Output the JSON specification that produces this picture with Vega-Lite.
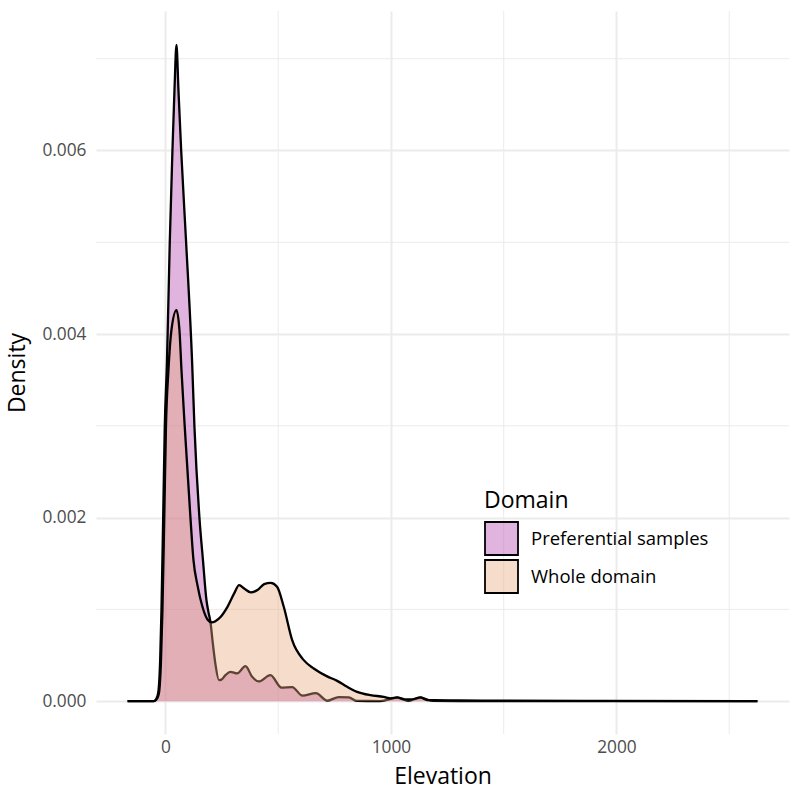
{
  "$schema": "https://vega.github.io/schema/vega-lite/v6.json",
  "width": 693,
  "height": 723,
  "autosize": {"type": "none"},
  "padding": {"left": 96, "top": 11, "right": 11, "bottom": 66},
  "background": "white",
  "datasets": {
    "curves": [
      {"elevation": -168, "density": 0, "domain": "Preferential samples"},
      {"elevation": -100, "density": 0, "domain": "Preferential samples"},
      {"elevation": -52, "density": 0, "domain": "Preferential samples"},
      {"elevation": -42, "density": 0.00002, "domain": "Preferential samples"},
      {"elevation": -32.4, "density": 0.000087, "domain": "Preferential samples"},
      {"elevation": -23.5, "density": 0.000447, "domain": "Preferential samples"},
      {"elevation": -17.7, "density": 0.000992, "domain": "Preferential samples"},
      {"elevation": -10.2, "density": 0.001995, "domain": "Preferential samples"},
      {"elevation": -3.1, "density": 0.002986, "domain": "Preferential samples"},
      {"elevation": 6.7, "density": 0.0037, "domain": "Preferential samples"},
      {"elevation": 19, "density": 0.00499, "domain": "Preferential samples"},
      {"elevation": 31, "density": 0.006005, "domain": "Preferential samples"},
      {"elevation": 40, "density": 0.00666, "domain": "Preferential samples"},
      {"elevation": 48.8, "density": 0.00715, "domain": "Preferential samples"},
      {"elevation": 57.6, "density": 0.00666, "domain": "Preferential samples"},
      {"elevation": 69.6, "density": 0.006005, "domain": "Preferential samples"},
      {"elevation": 91.8, "density": 0.00499, "domain": "Preferential samples"},
      {"elevation": 118.4, "density": 0.00368, "domain": "Preferential samples"},
      {"elevation": 128.6, "density": 0.002986, "domain": "Preferential samples"},
      {"elevation": 150.8, "density": 0.001995, "domain": "Preferential samples"},
      {"elevation": 166.3, "density": 0.001537, "domain": "Preferential samples"},
      {"elevation": 181.8, "density": 0.0011, "domain": "Preferential samples"},
      {"elevation": 190.7, "density": 0.00097, "domain": "Preferential samples"},
      {"elevation": 199.6, "density": 0.000861, "domain": "Preferential samples"},
      {"elevation": 208.4, "density": 0.000665, "domain": "Preferential samples"},
      {"elevation": 221.7, "density": 0.0004, "domain": "Preferential samples"},
      {"elevation": 237.2, "density": 0.000229, "domain": "Preferential samples"},
      {"elevation": 248, "density": 0.000234, "domain": "Preferential samples"},
      {"elevation": 266, "density": 0.000283, "domain": "Preferential samples"},
      {"elevation": 288, "density": 0.000319, "domain": "Preferential samples"},
      {"elevation": 318, "density": 0.000302, "domain": "Preferential samples"},
      {"elevation": 354.8, "density": 0.000381, "domain": "Preferential samples"},
      {"elevation": 384.5, "density": 0.000265, "domain": "Preferential samples"},
      {"elevation": 413.7, "density": 0.000215, "domain": "Preferential samples"},
      {"elevation": 465.6, "density": 0.000283, "domain": "Preferential samples"},
      {"elevation": 514.4, "density": 0.000147, "domain": "Preferential samples"},
      {"elevation": 561.9, "density": 0.000153, "domain": "Preferential samples"},
      {"elevation": 607.5, "density": 0.00006, "domain": "Preferential samples"},
      {"elevation": 667.4, "density": 0.000087, "domain": "Preferential samples"},
      {"elevation": 717, "density": 0.000005, "domain": "Preferential samples"},
      {"elevation": 768.5, "density": 0.000044, "domain": "Preferential samples"},
      {"elevation": 812.9, "density": 0.00004, "domain": "Preferential samples"},
      {"elevation": 850, "density": 0.000002, "domain": "Preferential samples"},
      {"elevation": 953, "density": 0.000001, "domain": "Preferential samples"},
      {"elevation": 1027.5, "density": 0.000038, "domain": "Preferential samples"},
      {"elevation": 1077, "density": 0.000002, "domain": "Preferential samples"},
      {"elevation": 1131, "density": 0.000038, "domain": "Preferential samples"},
      {"elevation": 1184, "density": 0.000002, "domain": "Preferential samples"},
      {"elevation": 1485, "density": 0, "domain": "Preferential samples"},
      {"elevation": 2000, "density": 0, "domain": "Preferential samples"},
      {"elevation": 2625, "density": 0, "domain": "Preferential samples"},
      {"elevation": -168, "density": 0, "domain": "Whole domain"},
      {"elevation": -100, "density": 0, "domain": "Whole domain"},
      {"elevation": -51, "density": 0, "domain": "Whole domain"},
      {"elevation": -41, "density": 0.000015, "domain": "Whole domain"},
      {"elevation": -29.7, "density": 0.000076, "domain": "Whole domain"},
      {"elevation": -20, "density": 0.000425, "domain": "Whole domain"},
      {"elevation": -13.3, "density": 0.000992, "domain": "Whole domain"},
      {"elevation": -5.3, "density": 0.001995, "domain": "Whole domain"},
      {"elevation": 2.2, "density": 0.002986, "domain": "Whole domain"},
      {"elevation": 13.3, "density": 0.003608, "domain": "Whole domain"},
      {"elevation": 26.6, "density": 0.004044, "domain": "Whole domain"},
      {"elevation": 48.8, "density": 0.00426, "domain": "Whole domain"},
      {"elevation": 62, "density": 0.004044, "domain": "Whole domain"},
      {"elevation": 71, "density": 0.003608, "domain": "Whole domain"},
      {"elevation": 85.6, "density": 0.002986, "domain": "Whole domain"},
      {"elevation": 110.9, "density": 0.001995, "domain": "Whole domain"},
      {"elevation": 124.2, "density": 0.001537, "domain": "Whole domain"},
      {"elevation": 141.9, "density": 0.001264, "domain": "Whole domain"},
      {"elevation": 164, "density": 0.001028, "domain": "Whole domain"},
      {"elevation": 186.3, "density": 0.00089, "domain": "Whole domain"},
      {"elevation": 205.3, "density": 0.000858, "domain": "Whole domain"},
      {"elevation": 238, "density": 0.000901, "domain": "Whole domain"},
      {"elevation": 275, "density": 0.001028, "domain": "Whole domain"},
      {"elevation": 304.7, "density": 0.001174, "domain": "Whole domain"},
      {"elevation": 326.8, "density": 0.001264, "domain": "Whole domain"},
      {"elevation": 349, "density": 0.001228, "domain": "Whole domain"},
      {"elevation": 378.3, "density": 0.001185, "domain": "Whole domain"},
      {"elevation": 408, "density": 0.00121, "domain": "Whole domain"},
      {"elevation": 437.7, "density": 0.001275, "domain": "Whole domain"},
      {"elevation": 467, "density": 0.001289, "domain": "Whole domain"},
      {"elevation": 495, "density": 0.001246, "domain": "Whole domain"},
      {"elevation": 524.6, "density": 0.001028, "domain": "Whole domain"},
      {"elevation": 561.9, "density": 0.000665, "domain": "Whole domain"},
      {"elevation": 613.3, "density": 0.000447, "domain": "Whole domain"},
      {"elevation": 657.6, "density": 0.000356, "domain": "Whole domain"},
      {"elevation": 717, "density": 0.00027, "domain": "Whole domain"},
      {"elevation": 761.4, "density": 0.000221, "domain": "Whole domain"},
      {"elevation": 805.8, "density": 0.000156, "domain": "Whole domain"},
      {"elevation": 850, "density": 0.000101, "domain": "Whole domain"},
      {"elevation": 909, "density": 0.000065, "domain": "Whole domain"},
      {"elevation": 968, "density": 0.000047, "domain": "Whole domain"},
      {"elevation": 1000, "density": 0.00003, "domain": "Whole domain"},
      {"elevation": 1027.5, "density": 0.00004, "domain": "Whole domain"},
      {"elevation": 1060, "density": 0.00002, "domain": "Whole domain"},
      {"elevation": 1086.5, "density": 0.000018, "domain": "Whole domain"},
      {"elevation": 1131, "density": 0.00004, "domain": "Whole domain"},
      {"elevation": 1160, "density": 0.000012, "domain": "Whole domain"},
      {"elevation": 1190, "density": 0.000011, "domain": "Whole domain"},
      {"elevation": 1300, "density": 0.000008, "domain": "Whole domain"},
      {"elevation": 1485, "density": 0.000005, "domain": "Whole domain"},
      {"elevation": 1929, "density": 0.000002, "domain": "Whole domain"},
      {"elevation": 2625, "density": 0, "domain": "Whole domain"}
    ],
    "vgrid": [{"elevation": 500}, {"elevation": 1500}, {"elevation": 2500}],
    "hgrid": [{"density": 0.001}, {"density": 0.003}, {"density": 0.005}, {"density": 0.007}]
  },
  "layer": [
    {
      "data": {"name": "vgrid"},
      "mark": {"type": "rule", "color": "#EBEBEB", "strokeWidth": 1},
      "encoding": {
        "x": {"field": "elevation", "type": "quantitative", "title": "Elevation",
          "scale": {"domain": [-308, 2765], "nice": false, "zero": false},
          "axis": {"values": [0, 1000, 2000], "format": "d"}}
      }
    },
    {
      "data": {"name": "hgrid"},
      "mark": {"type": "rule", "color": "#EBEBEB", "strokeWidth": 1},
      "encoding": {
        "y": {"field": "density", "type": "quantitative", "title": "Density",
          "scale": {"domain": [-0.000358, 0.00752], "nice": false, "zero": false},
          "axis": {"values": [0, 0.002, 0.004, 0.006], "format": ".3f"}}
      }
    },
    {
      "data": {"name": "curves"},
      "transform": [{"filter": "datum.domain == 'Preferential samples'"}],
      "mark": {"type": "area", "interpolate": "monotone", "fillOpacity": 0.4},
      "encoding": {
        "x": {"field": "elevation", "type": "quantitative", "title": "Elevation"},
        "y": {"field": "density", "type": "quantitative", "title": "Density"},
        "y2": {"datum": 0},
        "fill": {
          "field": "domain",
          "type": "nominal",
          "title": "Domain",
          "scale": {"domain": ["Preferential samples", "Whole domain"], "range": ["#B244AF", "#E8A87A"]},
          "legend": {
            "encode": {
              "symbols": {
                "update": {
                  "fillOpacity": {"value": 0.4},
                  "opacity": {"value": 1},
                  "stroke": {"value": "black"},
                  "strokeWidth": {"value": 1.8}
                }
              }
            }
          }
        }
      }
    },
    {
      "data": {"name": "curves"},
      "transform": [{"filter": "datum.domain == 'Preferential samples'"}],
      "mark": {"type": "line", "interpolate": "monotone", "color": "black", "strokeWidth": 2.3},
      "encoding": {
        "x": {"field": "elevation", "type": "quantitative", "title": "Elevation"},
        "y": {"field": "density", "type": "quantitative", "title": "Density"}
      }
    },
    {
      "data": {"name": "curves"},
      "transform": [{"filter": "datum.domain == 'Whole domain'"}],
      "mark": {"type": "area", "interpolate": "monotone", "fillOpacity": 0.4},
      "encoding": {
        "x": {"field": "elevation", "type": "quantitative", "title": "Elevation"},
        "y": {"field": "density", "type": "quantitative", "title": "Density"},
        "y2": {"datum": 0},
        "fill": {"field": "domain", "type": "nominal", "title": "Domain"}
      }
    },
    {
      "data": {"name": "curves"},
      "transform": [{"filter": "datum.domain == 'Whole domain'"}],
      "mark": {"type": "line", "interpolate": "monotone", "color": "black", "strokeWidth": 2.3},
      "encoding": {
        "x": {"field": "elevation", "type": "quantitative", "title": "Elevation"},
        "y": {"field": "density", "type": "quantitative", "title": "Density"}
      }
    }
  ],
  "resolve": {"scale": {"x": "shared", "y": "shared", "fill": "shared"}},
  "config": {
    "view": {"stroke": null},
    "font": "Open Sans",
    "axis": {
      "domain": false,
      "ticks": false,
      "grid": true,
      "gridColor": "#EBEBEB",
      "gridWidth": 2,
      "labelFont": "Open Sans",
      "labelFontSize": 17.3,
      "labelColor": "#4D4D4D",
      "titleFont": "Open Sans",
      "titleFontSize": 23,
      "titleFontWeight": "normal",
      "titleColor": "black"
    },
    "axisX": {"labelPadding": 4, "titlePadding": 10},
    "axisY": {"labelPadding": 10, "titlePadding": 12},
    "legend": {
      "orient": "none",
      "legendX": 388,
      "legendY": 479,
      "padding": 0,
      "titleFont": "Open Sans",
      "titleFontSize": 23,
      "titleFontWeight": "normal",
      "titleColor": "black",
      "titlePadding": 8,
      "labelFont": "Open Sans",
      "labelFontSize": 18.5,
      "labelColor": "black",
      "labelLimit": 0,
      "labelOffset": 12,
      "symbolType": "square",
      "symbolSize": 1089,
      "symbolStrokeColor": "black",
      "symbolStrokeWidth": 1.8,
      "rowPadding": -3
    }
  }
}
